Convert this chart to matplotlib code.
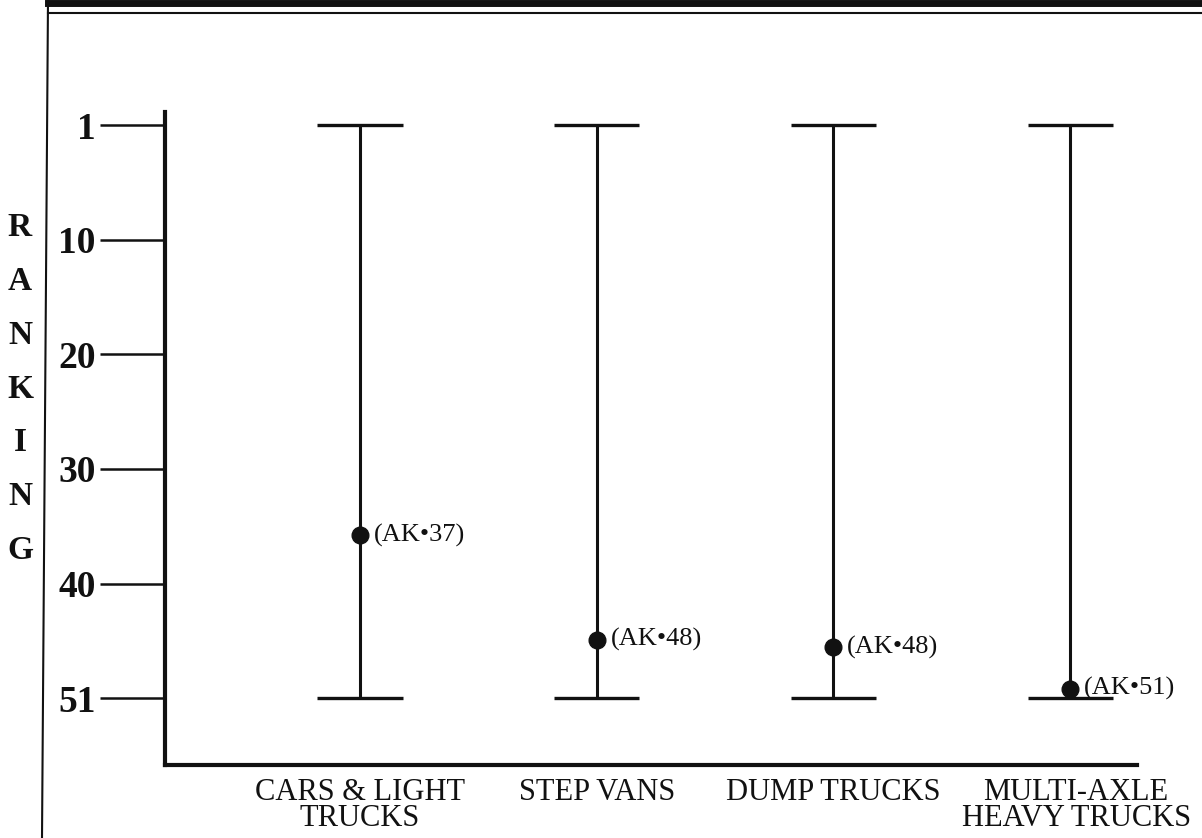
import numpy as np
import matplotlib
matplotlib.use("Agg")
import matplotlib.pyplot as plt
import matplotlib.transforms as mtransforms
from matplotlib.lines import Line2D
from matplotlib.ticker import NullLocator

plt.rcParams['font.family'] = ['Liberation Serif', 'DejaVu Serif']

# data
categories = ["CARS & LIGHT\nTRUCKS", "STEP VANS", "DUMP TRUCKS", "MULTI-AXLE\nHEAVY TRUCKS"]
range_top = [1, 1, 1, 1]
range_bottom = [51, 51, 51, 51]
ak_rank = [35.8, 45.4, 46.1, 50.1]          # where the dots sit on the drawn axis
ak_labels = ["(AK\u202237)", "(AK\u202248)", "(AK\u202248)", "(AK\u202251)"]
rank_ticks = [1, 10, 20, 30, 40, 51]

ink = "#111111"

# the original spaces its tick labels evenly, so map ranks onto even steps
steps = np.arange(len(rank_ticks), dtype=float)
lo_slope = (steps[1] - steps[0]) / (rank_ticks[1] - rank_ticks[0])
hi_slope = (steps[-1] - steps[-2]) / (rank_ticks[-1] - rank_ticks[-2])


def fwd(v):
    v = np.asarray(v, dtype=float)
    out = np.interp(v, rank_ticks, steps)
    out = np.where(v < rank_ticks[0], (v - rank_ticks[0]) * lo_slope, out)
    out = np.where(v > rank_ticks[-1], steps[-1] + (v - rank_ticks[-1]) * hi_slope, out)
    return out


def inv(s):
    s = np.asarray(s, dtype=float)
    out = np.interp(s, steps, rank_ticks)
    out = np.where(s < steps[0], rank_ticks[0] + s / lo_slope, out)
    out = np.where(s > steps[-1], rank_ticks[-1] + (s - steps[-1]) / hi_slope, out)
    return out


fig = plt.figure(figsize=(12.02, 8.38), dpi=100)
ax = fig.add_axes([0.1373, 0.0871, 0.8087, 0.7792])
ax.set_yscale('function', functions=(fwd, inv))

x = np.arange(len(categories))
ax.vlines(x, range_top, range_bottom, color=ink, lw=2.2)
ax.hlines(range_top, x - 0.18, x + 0.18, color=ink, lw=2.4)
ax.hlines(range_bottom, x - 0.18, x + 0.18, color=ink, lw=2.4)
ax.plot(x, ak_rank, 'o', ms=12, color=ink)
for xi, yi, lbl in zip(x, ak_rank, ak_labels):
    ax.annotate(lbl, (xi, yi), xytext=(10, 0), textcoords='offset points',
                ha='left', va='center', fontsize=19, color=ink)

ax.set_xlim(-0.824, 3.283)
ax.set_ylim(57.4, -0.02)

ax.set_xticks(x, categories)
for t in ax.get_xticklabels():
    t.set_linespacing(0.88)
ax.tick_params(axis='x', length=0, pad=9, labelsize=22, labelcolor=ink)
ax.get_xticklabels()[-1].set_transform(
    ax.get_xticklabels()[-1].get_transform()
    + mtransforms.ScaledTranslation(0.06, 0, fig.dpi_scale_trans))

ax.set_yticks(rank_ticks, [str(r) for r in rank_ticks])
ax.yaxis.set_minor_locator(NullLocator())
ax.tick_params(axis='y', length=47, width=1.8, pad=3, labelsize=27,
               color=ink, labelcolor=ink)
for t in ax.get_yticklabels():
    t.set_fontweight('bold')

for s in ['top', 'right']:
    ax.spines[s].set_visible(False)
for s in ['left', 'bottom']:
    ax.spines[s].set_linewidth(3)
    ax.spines[s].set_color(ink)

# vertical axis title, one letter per line
for i, ch in enumerate("RANKING"):
    fig.text(20 / 1202, 1 - (228 + i * 53.7) / 838, ch, ha='center', va='center',
             fontsize=24, fontweight='bold', color=ink)

# page frame from the scan
fig.add_artist(Line2D([48 / 1202, 1], [1 - 3.5 / 838] * 2, lw=5, color=ink))
fig.add_artist(Line2D([48 / 1202, 1], [1 - 13 / 838] * 2, lw=1.5, color=ink))
fig.add_artist(Line2D([48 / 1202, 42 / 1202], [1, 0], lw=1.5, color=ink))

fig.savefig("out.png", dpi=100)
